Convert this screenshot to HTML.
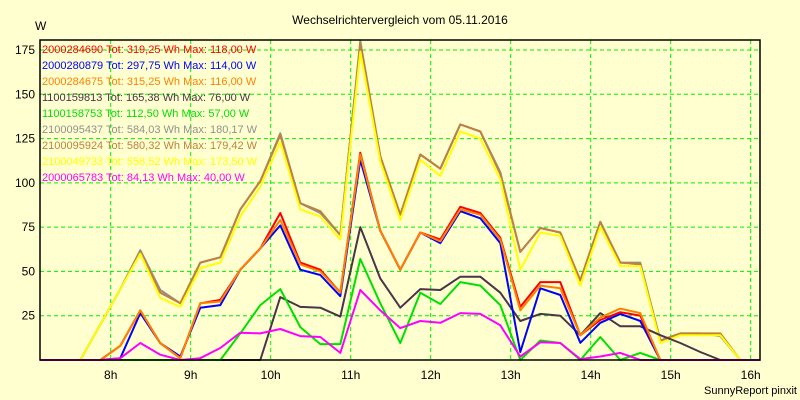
<!DOCTYPE html>
<html><head><meta charset="utf-8"><style>
body{margin:0;background:#ffffd0;}
svg{display:block;font-family:"Liberation Sans",sans-serif;}
</style></head><body>
<svg id="chart" width="800" height="400" viewBox="0 0 800 400">
<rect x="0" y="0" width="800" height="400" fill="#ffffd0"/>
<text x="400" y="24" text-anchor="middle" font-size="12" fill="#000">Wechselrichtervergleich vom 05.11.2016</text>
<text x="35" y="30" font-size="12" fill="#000">W</text>
<text x="797" y="394" text-anchor="end" font-size="11" fill="#000">SunnyReport pinxit</text>
<g id="grid"></g><g id="series"></g><g id="axes"></g><g id="legend"></g>
</svg>
<script>
const names=["2000284690","2000280879","2000284675","1100159813","1100158753","2100095437","2100095924","2100049733","2000065783"];
const legendTexts=["Tot: 319,25 Wh Max: 118,00 W","Tot: 297,75 Wh Max: 114,00 W","Tot: 315,25 Wh Max: 116,00 W","Tot: 165,38 Wh Max: 76,00 W","Tot: 112,50 Wh Max: 57,00 W","Tot: 584,03 Wh Max: 180,17 W","Tot: 580,32 Wh Max: 179,42 W","Tot: 558,52 Wh Max: 173,50 W","Tot: 84,13 Wh Max: 40,00 W"];
const colors=["#ff0000","#0000ff","#ff8000","#4a3448","#00e000","#909090","#c08040","#ffff00","#ff00ff"];
const startHour=7.12, stepHour=0.25;
const yTicks=[25,50,75,100,125,150,175];
const xTicks=[8,9,10,11,12,13,14,15,16];
const red=[0,0,0,0,8,28,9.5,1,32,34,51,63,83,55,51,38,117,73,51,72,68,86.5,83,69,30,44,44,14,22.6,27,25,0,0,0,0,0,0];
const blue=[0,0,0,0,1,26.5,9.5,2,29.5,31,51,63,76,51,48,36,113,73,51,72,66,84,80,66,4.5,40.5,36.7,9.7,21,26,22,0,0,0,0,0,0];
const orange=[0,0,0,0,8,28,9.5,1,32,33,51,63,79,54,50,38,116,73,51,72,67,85,82,68,28,42,40.5,14,24,29,26.5,0,0,0,0,0,0];
const dark=[0,0,0,0,0,0,0,0,0,0,0,0,35.5,30,29.5,24.5,75,46,29.5,40,39.5,47,47,38,22,26,25,14,26.5,19,19,14,9.6,4.5,0,0,0];
const green=[0,0,0,0,0,0,0,0,0,0,15,31,40,18.6,9,9,57,32,9.6,38,31.6,44,42,31,0,11,9.6,0,13,0,4,0,0,0,0,0,0];
const gray=[0,0,0,20,40,62,39.5,32,55,58,85,101,128,88.5,83,70.5,180,115,82,116,108,133,129,106,61,74.5,72,45,78,55,55,11,15,15,13.5,0,0];
const brown=[0,0,0,20,40,61,38,32,55,58,85,101,127,88.5,84,70.5,179,115,82,116,108,133,129,105,61,74.5,72,45,78,55,54,11,15,15,15,0,0];
const yellow=[0,0,0,20,40,60,35,30,52,55,81,98,123,85,81,68,174,112,79,113,104,129,125,102,51,72,70,42,75,53,53,9.6,14,14,14,0,0];
const magenta=[0,0,0,0,1,9.6,3,0,1,6.8,15.4,15,17.5,13.5,13,4,39.5,28,18,22,21,26.5,26,19.6,2,10,9.6,0.5,2,4,0,0,0,0,0,0,0];
const seriesData=[red,blue,orange,dark,green,gray,brown,yellow,magenta];
const drawOrder=[5,6,7,3,4,1,0,2,8];
const X0=40,X1=760,Y0=360,YTOP=40;
function xHour(h){return 110.7+80*(h-8);}
function xIdx(i){return xHour(startHour+stepHour*i);}
function yVal(v){return Y0-v*1.7714;}
const NS="http://www.w3.org/2000/svg";
function mk(t,parent){const e=document.createElementNS(NS,t);parent.appendChild(e);return e;}
const grid=document.getElementById('grid'),axes=document.getElementById('axes'),ser=document.getElementById('series'),leg=document.getElementById('legend');
yTicks.forEach(v=>{
 const l=mk('line',grid);l.setAttribute('x1',X0);l.setAttribute('x2',X1);l.setAttribute('y1',yVal(v));l.setAttribute('y2',yVal(v));
 l.setAttribute('stroke','#00ee00');l.setAttribute('stroke-dasharray','4,3');
 
 
 const t=mk('text',axes);t.setAttribute('x',35);t.setAttribute('y',yVal(v)+4);t.setAttribute('text-anchor','end');t.setAttribute('font-size','12');t.textContent=v;
 
 
});
xTicks.forEach(h=>{
 const x=xHour(h);
 const l=mk('line',grid);l.setAttribute('x1',x);l.setAttribute('x2',x);l.setAttribute('y1',YTOP);l.setAttribute('y2',Y0);
 l.setAttribute('stroke','#00ee00');l.setAttribute('stroke-dasharray','4,3');
 
 
 const t=mk('text',axes);t.setAttribute('x',x);t.setAttribute('y',379);t.setAttribute('text-anchor','middle');t.setAttribute('font-size','12');t.textContent=h+'h';
 
 
});
const frame=mk('path',axes);frame.setAttribute('d',`M${X0},${YTOP}H${X1}V${Y0}H${X0}Z`);frame.setAttribute('fill','none');frame.setAttribute('stroke','#000');frame.setAttribute('stroke-width','1.5');


drawOrder.forEach(k=>{
 const d=seriesData[k].map((v,i)=>(i?'L':'M')+xIdx(i).toFixed(1)+','+yVal(v).toFixed(1)).join('');
 const p=mk('path',ser);p.setAttribute('d',d);p.setAttribute('fill','none');p.setAttribute('stroke',colors[k]);p.setAttribute('stroke-width','2');p.setAttribute('stroke-linejoin','round');
 
 
});
names.forEach((n,k)=>{
 const t=mk('text',leg);t.setAttribute('x',42);t.setAttribute('y',53+16*k);t.setAttribute('font-size','11');t.setAttribute('fill',colors[k]);
 t.textContent=n+' '+legendTexts[k];
 
 
});
</script>
</body></html>
